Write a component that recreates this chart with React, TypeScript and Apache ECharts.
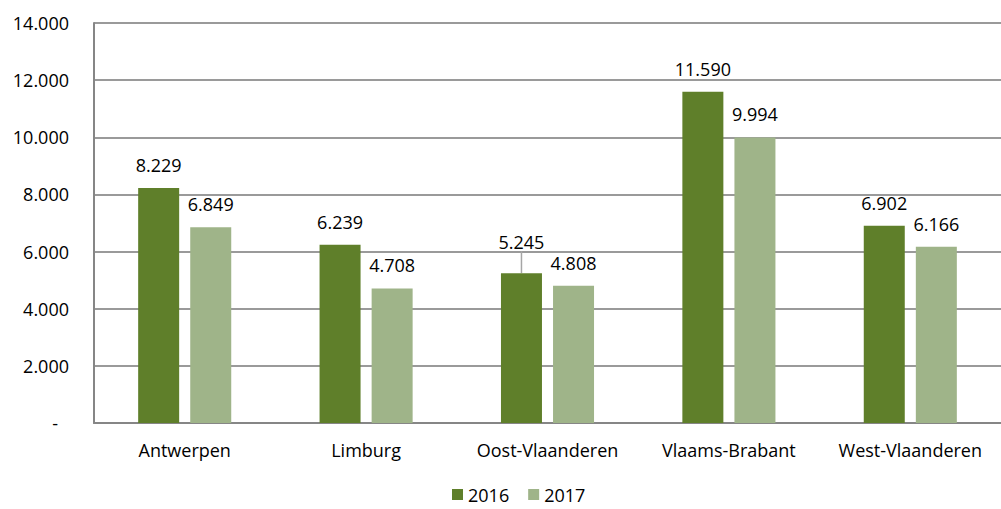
import React, { useEffect, useRef } from "react";
import * as echarts from "echarts";

const categories = ["Antwerpen", "Limburg", "Oost-Vlaanderen", "Vlaams-Brabant", "West-Vlaanderen"];
const values2016 = [8229, 6239, 5245, 11590, 6902];
const values2017 = [6849, 4708, 4808, 9994, 6166];
const seriesNames = ["2016", "2017"];
const yTicks = { min: 0, max: 14000, interval: 2000 };
const movedLabelIndex = 2;

const FONT = "'Open Sans', sans-serif";

function fmt(v: number): string {
  const s = Math.round(v).toString();
  return s.replace(/\B(?=(\d{3})+(?!\d))/g, ".");
}

export default function App() {
  const ref = useRef<HTMLDivElement>(null);
  useEffect(() => {
    if (!ref.current) return;
    const chart = echarts.init(ref.current, null, { renderer: "svg" });
    const labelStyle = {
      show: true,
      position: "top" as const,
      distance: 14,
      color: "#000",
      fontFamily: FONT,
      fontSize: 18,
      formatter: (p: any) => fmt(p.value),
    };
    const data2016 = values2016.map((v, i) =>
      i === movedLabelIndex
        ? { value: v, labelLine: { show: true, lineStyle: { color: "#a6a6a6", width: 1.5 } } }
        : { value: v, labelLine: { show: false } }
    );
    chart.setOption({
      animation: false,
      textStyle: { fontFamily: FONT },
      grid: { left: 94, right: 0, top: 23, bottom: 86, containLabel: false },
      legend: {
        data: seriesNames,
        left: 452,
        top: 485,
        padding: 0,
        icon: "rect",
        itemWidth: 11,
        itemHeight: 11,
        itemGap: 19,
        textStyle: { fontFamily: FONT, fontSize: 18, lineHeight: 19, color: "#000" },
      },
      xAxis: {
        type: "category",
        data: categories,
        axisTick: { show: false },
        axisLine: { show: true, lineStyle: { color: "#868686", width: 2 } },
        axisLabel: { color: "#000", fontFamily: FONT, fontSize: 18, margin: 18, interval: 0 },
      },
      yAxis: {
        type: "value",
        min: yTicks.min,
        max: yTicks.max,
        interval: yTicks.interval,
        axisLine: { show: true, lineStyle: { color: "#868686", width: 2 } },
        axisTick: { show: false },
        splitLine: { show: true, lineStyle: { color: "#9a9a9a", width: 2 } },
        axisLabel: {
          color: "#000",
          fontFamily: FONT,
          fontSize: 18,
          margin: 25,
          formatter: (v: number) => (v === 0 ? "{z|-}" : fmt(v)),
          rich: { z: { fontFamily: FONT, fontSize: 18, color: "#000", padding: [0, 11, 0, 0] } },
        },
      },
      series: [
        {
          name: seriesNames[0],
          type: "bar",
          data: data2016,
          barWidth: 41,
          barGap: "27%",
          itemStyle: { color: "#5f7f2a" },
          label: labelStyle,
          labelLine: { show: false },
          labelLayout: (p: any) => (p.dataIndex === movedLabelIndex ? { dy: -8 } : { dy: 0 }),
        },
        {
          name: seriesNames[1],
          type: "bar",
          data: values2017,
          barWidth: 41,
          barGap: "27%",
          itemStyle: { color: "#9fb489" },
          label: labelStyle,
        },
      ],
    });
    return () => chart.dispose();
  }, []);
  return (
    <div
      ref={ref}
      style={{ position: "absolute", left: 0, top: 0, width: 1001, height: 509, background: "#fff" }}
    />
  );
}
